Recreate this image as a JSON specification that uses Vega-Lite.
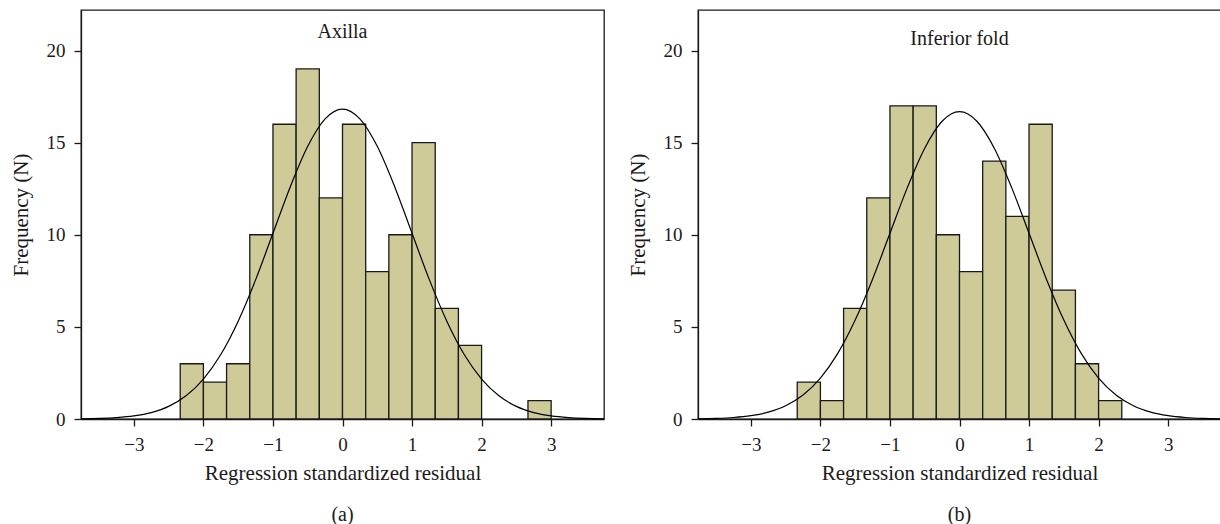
{
  "$schema": "https://vega.github.io/schema/vega-lite/v6.json",
  "padding": {"left": 9, "top": 9, "right": 0, "bottom": 0},
  "background": "white",
  "spacing": 18,
  "datasets": {
    "axilla_bins": [
      {"lo": -2.3333, "hi": -2.0, "count": 3},
      {"lo": -2.0, "hi": -1.6667, "count": 2},
      {"lo": -1.6667, "hi": -1.3333, "count": 3},
      {"lo": -1.3333, "hi": -1.0, "count": 10},
      {"lo": -1.0, "hi": -0.6667, "count": 16},
      {"lo": -0.6667, "hi": -0.3333, "count": 19},
      {"lo": -0.3333, "hi": 0.0, "count": 12},
      {"lo": 0.0, "hi": 0.3333, "count": 16},
      {"lo": 0.3333, "hi": 0.6667, "count": 8},
      {"lo": 0.6667, "hi": 1.0, "count": 10},
      {"lo": 1.0, "hi": 1.3333, "count": 15},
      {"lo": 1.3333, "hi": 1.6667, "count": 6},
      {"lo": 1.6667, "hi": 2.0, "count": 4},
      {"lo": 2.6667, "hi": 3.0, "count": 1}
    ],
    "axilla_curve": [
      {"x": -3.76, "y": 0.012}, {"x": -3.5, "y": 0.032}, {"x": -3.25, "y": 0.075},
      {"x": -3.0, "y": 0.167}, {"x": -2.75, "y": 0.349}, {"x": -2.5, "y": 0.685},
      {"x": -2.25, "y": 1.258}, {"x": -2.0, "y": 2.17}, {"x": -1.75, "y": 3.5},
      {"x": -1.5, "y": 5.31}, {"x": -1.25, "y": 7.55}, {"x": -1.0, "y": 10.08},
      {"x": -0.75, "y": 12.61}, {"x": -0.5, "y": 14.8}, {"x": -0.25, "y": 16.29},
      {"x": 0.0, "y": 16.82}, {"x": 0.25, "y": 16.29}, {"x": 0.5, "y": 14.8},
      {"x": 0.75, "y": 12.61}, {"x": 1.0, "y": 10.08}, {"x": 1.25, "y": 7.55},
      {"x": 1.5, "y": 5.31}, {"x": 1.75, "y": 3.5}, {"x": 2.0, "y": 2.17},
      {"x": 2.25, "y": 1.258}, {"x": 2.5, "y": 0.685}, {"x": 2.75, "y": 0.349},
      {"x": 3.0, "y": 0.167}, {"x": 3.25, "y": 0.075}, {"x": 3.5, "y": 0.032},
      {"x": 3.76, "y": 0.012}
    ],
    "fold_bins": [
      {"lo": -2.3333, "hi": -2.0, "count": 2},
      {"lo": -2.0, "hi": -1.6667, "count": 1},
      {"lo": -1.6667, "hi": -1.3333, "count": 6},
      {"lo": -1.3333, "hi": -1.0, "count": 12},
      {"lo": -1.0, "hi": -0.6667, "count": 17},
      {"lo": -0.6667, "hi": -0.3333, "count": 17},
      {"lo": -0.3333, "hi": 0.0, "count": 10},
      {"lo": 0.0, "hi": 0.3333, "count": 8},
      {"lo": 0.3333, "hi": 0.6667, "count": 14},
      {"lo": 0.6667, "hi": 1.0, "count": 11},
      {"lo": 1.0, "hi": 1.3333, "count": 16},
      {"lo": 1.3333, "hi": 1.6667, "count": 7},
      {"lo": 1.6667, "hi": 2.0, "count": 3},
      {"lo": 2.0, "hi": 2.3333, "count": 1}
    ],
    "fold_curve": [
      {"x": -3.76, "y": 0.014}, {"x": -3.5, "y": 0.035}, {"x": -3.25, "y": 0.081},
      {"x": -3.0, "y": 0.179}, {"x": -2.75, "y": 0.369}, {"x": -2.5, "y": 0.715},
      {"x": -2.25, "y": 1.3}, {"x": -2.0, "y": 2.22}, {"x": -1.75, "y": 3.56},
      {"x": -1.5, "y": 5.37}, {"x": -1.25, "y": 7.59}, {"x": -1.0, "y": 10.08},
      {"x": -0.75, "y": 12.56}, {"x": -0.5, "y": 14.7}, {"x": -0.25, "y": 16.16},
      {"x": 0.0, "y": 16.68}, {"x": 0.25, "y": 16.16}, {"x": 0.5, "y": 14.7},
      {"x": 0.75, "y": 12.56}, {"x": 1.0, "y": 10.08}, {"x": 1.25, "y": 7.59},
      {"x": 1.5, "y": 5.37}, {"x": 1.75, "y": 3.56}, {"x": 2.0, "y": 2.22},
      {"x": 2.25, "y": 1.3}, {"x": 2.5, "y": 0.715}, {"x": 2.75, "y": 0.369},
      {"x": 3.0, "y": 0.179}, {"x": 3.25, "y": 0.081}, {"x": 3.5, "y": 0.035},
      {"x": 3.76, "y": 0.014}
    ],
    "axilla_label": [{"label": "Axilla"}],
    "fold_label": [{"label": "Inferior fold"}]
  },
  "hconcat": [
    {
      "width": 523,
      "height": 409,
      "title": {"text": "(a)", "orient": "bottom", "anchor": "middle", "offset": 22},
      "layer": [
        {
          "data": {"name": "axilla_bins"},
          "mark": {"type": "rect", "fill": "#cfcb98", "stroke": "#1a1a1a", "strokeWidth": 1.3},
          "encoding": {
            "x": {"field": "lo", "type": "quantitative",
                  "scale": {"domain": [-3.76, 3.76], "nice": false, "zero": false},
                  "axis": {"values": [-3, -2, -1, 0, 1, 2, 3], "format": "d", "title": "Regression standardized residual"}},
            "x2": {"field": "hi"},
            "y": {"field": "count", "type": "quantitative",
                  "scale": {"domain": [0, 22.2], "nice": false},
                  "axis": {"values": [0, 5, 10, 15, 20], "format": "d", "title": "Frequency (N)"}},
            "y2": {"datum": 0}
          }
        },
        {
          "data": {"name": "axilla_curve"},
          "mark": {"type": "line", "color": "black", "strokeWidth": 1.2, "interpolate": "monotone"},
          "encoding": {
            "x": {"field": "x", "type": "quantitative"},
            "y": {"field": "y", "type": "quantitative"}
          }
        },
        {
          "data": {"name": "axilla_label"},
          "mark": {"type": "text", "fontSize": 20, "baseline": "alphabetic", "align": "center", "color": "#1a1a1a"},
          "encoding": {
            "x": {"datum": 0, "type": "quantitative"},
            "y": {"datum": 20.68, "type": "quantitative"},
            "text": {"field": "label"}
          }
        }
      ]
    },
    {
      "width": 523,
      "height": 409,
      "title": {"text": "(b)", "orient": "bottom", "anchor": "middle", "offset": 22},
      "layer": [
        {
          "data": {"name": "fold_bins"},
          "mark": {"type": "rect", "fill": "#cfcb98", "stroke": "#1a1a1a", "strokeWidth": 1.3},
          "encoding": {
            "x": {"field": "lo", "type": "quantitative",
                  "scale": {"domain": [-3.76, 3.76], "nice": false, "zero": false},
                  "axis": {"values": [-3, -2, -1, 0, 1, 2, 3], "format": "d", "title": "Regression standardized residual"}},
            "x2": {"field": "hi"},
            "y": {"field": "count", "type": "quantitative",
                  "scale": {"domain": [0, 22.2], "nice": false},
                  "axis": {"values": [0, 5, 10, 15, 20], "format": "d", "title": "Frequency (N)"}},
            "y2": {"datum": 0}
          }
        },
        {
          "data": {"name": "fold_curve"},
          "mark": {"type": "line", "color": "black", "strokeWidth": 1.2, "interpolate": "monotone"},
          "encoding": {
            "x": {"field": "x", "type": "quantitative"},
            "y": {"field": "y", "type": "quantitative"}
          }
        },
        {
          "data": {"name": "fold_label"},
          "mark": {"type": "text", "fontSize": 20, "baseline": "alphabetic", "align": "center", "color": "#1a1a1a"},
          "encoding": {
            "x": {"datum": 0, "type": "quantitative"},
            "y": {"datum": 20.3, "type": "quantitative"},
            "text": {"field": "label"}
          }
        }
      ]
    }
  ],
  "config": {
    "font": "Liberation Serif",
    "view": {"stroke": "#1a1a1a", "strokeWidth": 1.3},
    "axis": {
      "labelFont": "Liberation Serif",
      "labelFontSize": 19,
      "labelColor": "#1a1a1a",
      "titleFont": "Liberation Serif",
      "titleFontSize": 21,
      "titleFontWeight": "normal",
      "titleColor": "#1a1a1a",
      "domainColor": "#1a1a1a",
      "domainWidth": 1.3,
      "tickColor": "#1a1a1a",
      "tickWidth": 1.3,
      "tickSize": 7,
      "labelPadding": 9,
      "grid": false
    },
    "axisX": {"titlePadding": 8},
    "axisY": {"titlePadding": 14.7},
    "title": {
      "font": "Liberation Serif",
      "fontSize": 20,
      "fontWeight": "normal",
      "color": "#1a1a1a"
    }
  }
}
